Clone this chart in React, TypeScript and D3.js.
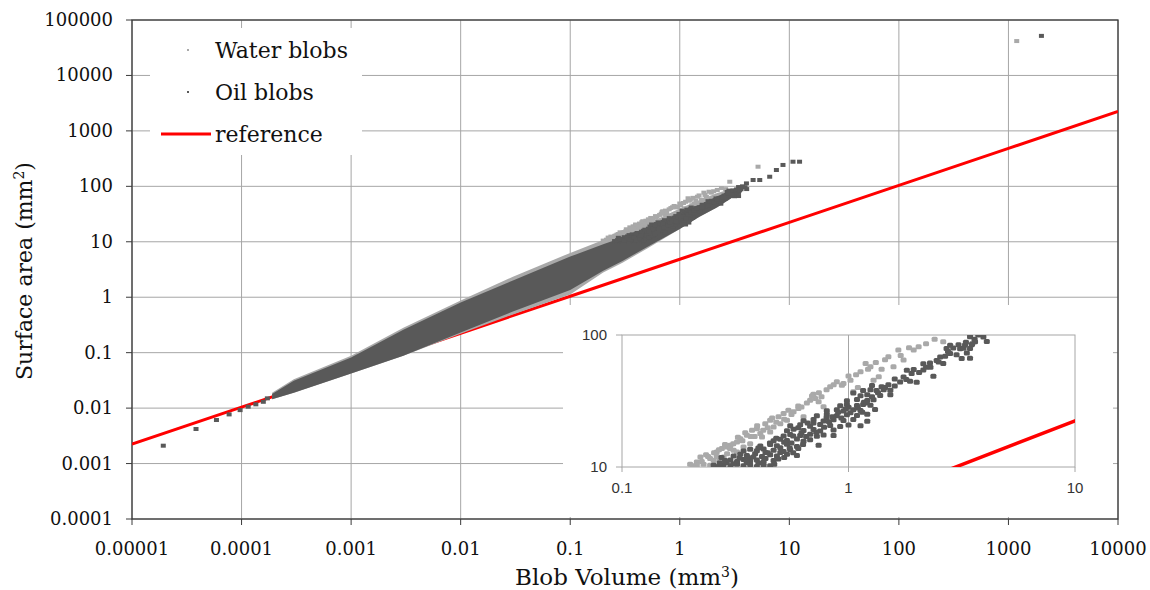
import React from "react";
import * as d3 from "d3";

// axis ticks
const xTickValues = [1e-5, 1e-4, 1e-3, 1e-2, 1e-1, 1, 10, 100, 1000, 10000];
const xTickLabels = ["0.00001", "0.0001", "0.001", "0.01", "0.1", "1", "10", "100", "1000", "10000"];
const yTickValues = [1e-4, 1e-3, 1e-2, 1e-1, 1, 10, 100, 1000, 10000, 100000];
const yTickLabels = ["0.0001", "0.001", "0.01", "0.1", "1", "10", "100", "1000", "10000", "100000"];
const insetXTicks = [0.1, 1, 10];
const insetXLabels = ["0.1", "1", "10"];
const insetYTicks = [10, 100];
const insetYLabels = ["10", "100"];

// reference (sphere) line
const referenceV = [1e-5, 1e-4, 1e-3, 1e-2, 0.1, 1, 10, 100, 1000, 10000];
const referenceA = [0.00224, 0.0104, 0.0483, 0.224, 1.04, 4.84, 22.4, 104, 483, 2245];

// envelope of the dense part of the cloud
const bandV = [1.9e-4, 3e-4, 1e-3, 3e-3, 1e-2, 3e-2, 0.1, 0.2, 0.3, 0.5, 1.0, 1.5, 2.2, 3.0, 3.6];
const oilLow = [0.0145, 0.019, 0.042, 0.088, 0.23, 0.55, 1.35, 3.0, 4.5, 8, 17, 28, 42, 62, 82];
const oilHigh = [0.018, 0.031, 0.082, 0.26, 0.8, 2.0, 5.4, 9.0, 12, 18, 32, 46, 66, 86, 90];
const waterLow = [0.0145, 0.019, 0.042, 0.088, 0.22, 0.49, 1.12, 2.8, 4.2, 7.5, 17, 28, 42, 62, 82];
const waterHigh = [0.019, 0.033, 0.088, 0.28, 0.87, 2.35, 6.3, 10.8, 14, 21, 40, 56, 76, 90, 92];

// single blobs [volume, area]
const waterBlobs: [number, number][] = [
  [0.2, 10.5], [0.214, 10.9], [0.229, 10.5], [0.245, 11.6], [0.262, 13.0], [0.276, 13.8],
  [0.291, 12.6], [0.301, 14.6], [0.322, 15.5], [0.333, 16.4], [0.356, 17.4], [0.375, 19.0],
  [0.394, 19.5], [0.408, 17.9], [0.429, 21.3], [0.451, 22.6], [0.467, 20.1], [0.491, 24.0],
  [0.517, 25.4], [0.543, 26.9], [0.572, 26.2], [0.601, 27.7], [0.633, 24.0], [0.677, 32.1],
  [0.713, 33.0], [0.738, 31.2], [0.776, 28.6], [0.83, 40.5], [0.888, 44.2], [0.935, 41.7],
  [1.02, 45.5], [1.05, 37.1], [1.13, 52.7], [1.19, 60.9], [1.25, 57.5], [1.29, 45.5],
  [1.36, 48.3], [1.5, 68.5], [1.58, 57.5], [1.66, 76.9], [1.75, 64.6], [1.94, 76.9],
  [2.04, 81.6], [2.62, 89.0], [0.222, 11.9], [0.254, 11.2], [0.281, 11.9], [0.311, 13.4],
  [0.344, 14.2], [0.368, 15.0], [0.415, 16.9], [0.451, 18.4], [0.5, 21.3], [0.535, 22.6],
  [0.214, 10.3], [0.245, 10.3], [0.27, 11.2], [0.322, 13.0], [0.291, 14.2],
  [0.235, 12.4], [0.262, 12.0], [0.3, 13.8], [0.34, 15.8], [0.385, 17.0], [0.44, 19.8],
  [0.6, 29.0], [0.7, 35.5], [0.76, 34.0], [0.95, 43.0], [1.1, 40.0], [1.4, 55.0],
  [0.205, 10.2], [0.225, 11.0], [0.24, 12.0], [0.255, 12.8], [0.268, 13.5], [0.285, 14.8],
  [0.31, 15.0], [0.325, 16.8], [0.35, 18.2], [0.37, 17.0], [0.395, 20.5], [0.42, 19.0],
  [0.46, 23.5], [0.48, 21.8], [0.52, 23.0], [0.56, 25.0], [0.62, 28.5], [0.655, 30.5],
  [0.69, 34.5], [0.74, 36.5], [0.8, 38.5], [0.86, 42.0], [1.0, 49.0], [1.08, 50.0],
  [1.22, 55.0], [1.32, 62.0], [1.45, 65.0], [1.7, 70.0], [1.85, 80.0], [2.2, 86.0], [2.4, 93.0],
  [2.86, 121], [5.18, 226], [1190, 41700],
];

const oilBlobs: [number, number][] = [
  [1.93e-5, 0.0021], [3.84e-5, 0.0042], [5.9e-5, 0.0061], [7.7e-5, 0.0077], [9.7e-5, 0.0092],
  [1.15e-4, 0.0106], [1.35e-4, 0.0117], [1.58e-4, 0.013], [1.72e-4, 0.015],
  [0.254, 10.3], [0.267, 10.1], [0.281, 10.4], [0.301, 10.2], [0.322, 10.5], [0.344, 10.2],
  [0.368, 10.4], [0.394, 10.1], [0.422, 10.3], [0.451, 10.2],
  [0.301, 11.3], [0.322, 11.0], [0.344, 11.4], [0.368, 11.1], [0.394, 11.3], [0.422, 11.0], [0.467, 11.2],
  [0.311, 12.1], [0.333, 12.5], [0.356, 12.2], [0.387, 12.6], [0.415, 12.0], [0.451, 12.4],
  [0.483, 12.1], [0.535, 12.5], [0.592, 12.2],
  [0.344, 13.2], [0.368, 13.6], [0.394, 13.3], [0.422, 13.7], [0.467, 13.4], [0.517, 13.1], [0.553, 13.5],
  [0.408, 14.4], [0.451, 14.8], [0.483, 14.5], [0.535, 14.9], [0.592, 14.3], [0.738, 14.6],
  [0.467, 15.8], [0.5, 16.2], [0.535, 15.9], [0.592, 16.3], [0.633, 15.7], [0.677, 16.1],
  [0.517, 17.2], [0.553, 17.6], [0.612, 17.3], [0.677, 17.7], [0.725, 17.1], [0.776, 17.5], [0.859, 17.3],
  [0.535, 18.8], [0.572, 19.3], [0.633, 18.9], [0.701, 19.2], [0.75, 18.7], [0.859, 19.1],
  [0.553, 20.5], [0.612, 20.9], [0.677, 20.4], [0.75, 21.0], [0.83, 20.6], [0.919, 20.3], [1.0, 20.8], [1.13, 20.5],
  [0.633, 22.4], [0.701, 22.9], [0.776, 22.3], [0.859, 22.8], [0.95, 22.5], [1.05, 22.9], [1.21, 22.2],
  [0.725, 24.5], [0.802, 25.0], [0.888, 24.4], [0.984, 24.9], [1.09, 24.6], [1.21, 25.1],
  [0.802, 26.7], [0.888, 27.2], [0.95, 26.6], [1.05, 27.1], [1.13, 26.8], [1.31, 27.3],
  [0.919, 29.1], [0.984, 29.7], [1.09, 29.2], [1.16, 29.8], [1.25, 29.3],
  [0.984, 31.8], [1.09, 32.4], [1.21, 31.9], [1.29, 32.3],
  [1.13, 34.7], [1.21, 35.3], [1.38, 34.8], [1.53, 35.2],
  [1.16, 38.0], [1.25, 38.5], [1.33, 37.9], [1.43, 38.4], [1.53, 38.1],
  [1.27, 41.5], [1.5, 42.0], [1.69, 44.0], [1.87, 44.6], [2.0, 43.8], [1.75, 48.0], [2.37, 48.6],
  [1.81, 54.0], [1.94, 54.8], [2.14, 54.2], [2.14, 60.5], [2.29, 61.3], [2.62, 60.7],
  [2.54, 68.2], [2.67, 68.9], [2.81, 72.3], [3.33, 73.0],
  [2.71, 79.0], [2.9, 79.6], [3.11, 78.8], [3.22, 79.4], [3.44, 79.1],
  [2.81, 83.7], [3.06, 84.3], [3.27, 83.9], [3.5, 84.2], [3.62, 88.7], [4.08, 89.3],
  [3.44, 97.0], [3.94, 96.5], [3.16, 66.3], [3.44, 66.8],
  [0.275, 11.8], [0.29, 10.8], [0.36, 11.8], [0.43, 12.9], [0.5, 14.0], [0.56, 15.2],
  [0.62, 18.2], [0.66, 21.5], [0.8, 23.6], [0.9, 26.0], [1.0, 28.3], [1.17, 31.0],
  [1.05, 36.3], [1.4, 40.5], [1.6, 46.5], [1.9, 51.0], [2.3, 57.0], [2.45, 64.0],
  [0.27, 10.7], [0.285, 11.2], [0.31, 10.6], [0.33, 11.7], [0.355, 10.8], [0.38, 11.9],
  [0.4, 10.7], [0.43, 11.6], [0.44, 12.8], [0.47, 10.5], [0.49, 11.5], [0.5, 12.9],
  [0.52, 11.8], [0.55, 13.9], [0.57, 12.8], [0.6, 13.8], [0.63, 14.8], [0.4, 13.9],
  [0.45, 15.2], [0.48, 16.5], [0.52, 15.4], [0.57, 17.2], [0.6, 19.8], [0.65, 17.0],
  [0.7, 21.5], [0.72, 18.3], [0.78, 20.0], [0.82, 22.0], [0.85, 24.0], [0.93, 23.5],
  [0.97, 27.5], [1.02, 25.8], [1.1, 28.0], [1.15, 26.0], [1.2, 30.5], [1.27, 34.0],
  [1.35, 36.5], [1.45, 40.0], [1.6, 41.0], [1.8, 46.0], [2.05, 52.0], [2.2, 57.0],
  [2.5, 62.5], [2.75, 75.0], [3.0, 71.0], [3.3, 88.0], [3.6, 93.0],
  [3.52, 86], [3.74, 100], [4.06, 113], [4.67, 130], [5.37, 130], [6.62, 149], [7.62, 197],
  [8.75, 243], [10.8, 278], [12.4, 278], [2000, 51700],
];

const WATER = "#a9a9a9";
const OIL = "#595959";
const RED = "#ff0000";
const GRID = "#a6a6a6";
const AXIS = "#3a3a3a";
const SERIF = "'DejaVu Serif', serif";
const SANS = "'Liberation Sans', Arial, sans-serif";

export default function App() {
  const left = 132, right = 1118, top = 20, bottom = 519;
  const x = d3.scaleLog().domain([1e-5, 1e4]).range([left, right]);
  const y = d3.scaleLog().domain([1e-4, 1e5]).range([bottom, top]);

  const iL = 622, iR = 1075, iT = 335, iB = 467;
  const ix = d3.scaleLog().domain([0.1, 10]).range([iL, iR]);
  const iy = d3.scaleLog().domain([10, 100]).range([iB, iT]);

  const refMain = d3.line<number>().x((v) => x(v)).y((_, i) => y(referenceA[i]))(referenceV) || "";
  const refInset = d3.line<number>().x((v) => ix(v)).y((_, i) => iy(referenceA[i]))(referenceV) || "";

  const waterArea = d3.area<number>().x((v) => x(v)).y0((_, i) => y(waterLow[i])).y1((_, i) => y(waterHigh[i]))(bandV) || "";
  const oilArea = d3.area<number>().x((v) => x(v)).y0((_, i) => y(oilLow[i])).y1((_, i) => y(oilHigh[i]))(bandV) || "";

  return (
    <svg width={1150} height={590} style={{ position: "absolute", left: 0, top: 0, background: "#fff" }}>
      <defs>
        <clipPath id="mainClip"><rect x={left} y={top} width={right - left} height={bottom - top} /></clipPath>
        <clipPath id="insetClip"><rect x={iL} y={iT} width={iR - iL} height={iB - iT} /></clipPath>
      </defs>
      <rect x={0} y={0} width={1150} height={590} fill="#fff" />

      {/* grid */}
      {xTickValues.map((v, i) => (
        <line key={"gx" + i} x1={x(v)} x2={x(v)} y1={top} y2={bottom} stroke={GRID} strokeWidth={1} />
      ))}
      {yTickValues.map((v, i) => (
        <line key={"gy" + i} x1={left} x2={right} y1={y(v)} y2={y(v)} stroke={GRID} strokeWidth={1} />
      ))}

      {/* legend and inset backgrounds */}
      <rect x={150} y={28} width={212} height={127} fill="#fff" />
      <rect x={563} y={305} width={550} height={212} fill="#fff" />

      {/* frame + ticks */}
      <rect x={left} y={top} width={right - left} height={bottom - top} fill="none" stroke={AXIS} strokeWidth={1.3} />
      {xTickValues.map((v, i) => (
        <g key={"xt" + i}>
          <line x1={x(v)} x2={x(v)} y1={bottom} y2={bottom + 6} stroke={AXIS} />
          <text x={x(v)} y={555} textAnchor="middle" fontFamily={SERIF} fontSize={18} fill="#111">{xTickLabels[i]}</text>
        </g>
      ))}
      {yTickValues.map((v, i) => (
        <g key={"yt" + i}>
          <line x1={left - 6} x2={left} y1={y(v)} y2={y(v)} stroke={AXIS} />
          <text x={113} y={y(v) + 6} textAnchor="end" fontFamily={SERIF} fontSize={18} fill="#111">{yTickLabels[i]}</text>
        </g>
      ))}

      {/* main data */}
      <g clipPath="url(#mainClip)">
        <path d={refMain} fill="none" stroke={RED} strokeWidth={3} />
        <path d={waterArea} fill={WATER} />
        {waterBlobs.map((d, i) => (
          <rect key={"w" + i} x={x(d[0]) - 2.5} y={y(d[1]) - 2} width={5} height={4} fill={WATER} />
        ))}
        <path d={oilArea} fill={OIL} />
        {oilBlobs.map((d, i) => (
          <rect key={"o" + i} x={x(d[0]) - 2.5} y={y(d[1]) - 2} width={5} height={4} fill={OIL} />
        ))}
      </g>

      {/* inset */}
      <line x1={ix(1)} x2={ix(1)} y1={iT} y2={iB} stroke={GRID} />
      <rect x={iL} y={iT} width={iR - iL} height={iB - iT} fill="none" stroke={GRID} strokeWidth={1} />
      {insetXTicks.map((v, i) => (
        <g key={"ixt" + i}>
          <line x1={ix(v)} x2={ix(v)} y1={iB} y2={iB + 5} stroke={GRID} />
          <text x={ix(v)} y={493} textAnchor="middle" fontFamily={SANS} fontSize={15} fill="#333">{insetXLabels[i]}</text>
        </g>
      ))}
      {insetYTicks.map((v, i) => (
        <g key={"iyt" + i}>
          <line x1={iL - 6} x2={iL} y1={iy(v)} y2={iy(v)} stroke={GRID} />
          <text x={607} y={iy(v) + 5} textAnchor="end" fontFamily={SANS} fontSize={15} fill="#333">{insetYLabels[i]}</text>
        </g>
      ))}
      <g clipPath="url(#insetClip)">
        <path d={refInset} fill="none" stroke={RED} strokeWidth={3.5} />
        {waterBlobs.map((d, i) => (
          <rect key={"iw" + i} x={ix(d[0]) - 3} y={iy(d[1]) - 2.5} width={6} height={5} rx={1.5} fill={WATER} />
        ))}
        {oilBlobs.map((d, i) => (
          <rect key={"io" + i} x={ix(d[0]) - 3} y={iy(d[1]) - 2.5} width={6} height={5} rx={1.5} fill={OIL} />
        ))}
      </g>

      {/* legend */}
      <rect x={187} y={49} width={2} height={2} fill={WATER} />
      <text x={215} y={58} fontFamily={SERIF} fontSize={22} fill="#111">Water blobs</text>
      <rect x={187} y={91} width={2} height={2} fill={OIL} />
      <text x={215} y={100} fontFamily={SERIF} fontSize={22} fill="#111">Oil blobs</text>
      <line x1={161} x2={211} y1={134} y2={134} stroke={RED} strokeWidth={3} />
      <text x={215} y={142} fontFamily={SERIF} fontSize={22} fill="#111">reference</text>

      {/* axis titles */}
      <text x={627} y={585} textAnchor="middle" fontFamily={SERIF} fontSize={23} fill="#111">
        Blob Volume (mm<tspan dy={-8} fontSize={14}>3</tspan><tspan dy={8}>)</tspan>
      </text>
      <text transform="translate(32,271) rotate(-90)" textAnchor="middle" fontFamily={SERIF} fontSize={22} fill="#111">
        Surface area (mm<tspan dy={-8} fontSize={14}>2</tspan><tspan dy={8}>)</tspan>
      </text>
    </svg>
  );
}
